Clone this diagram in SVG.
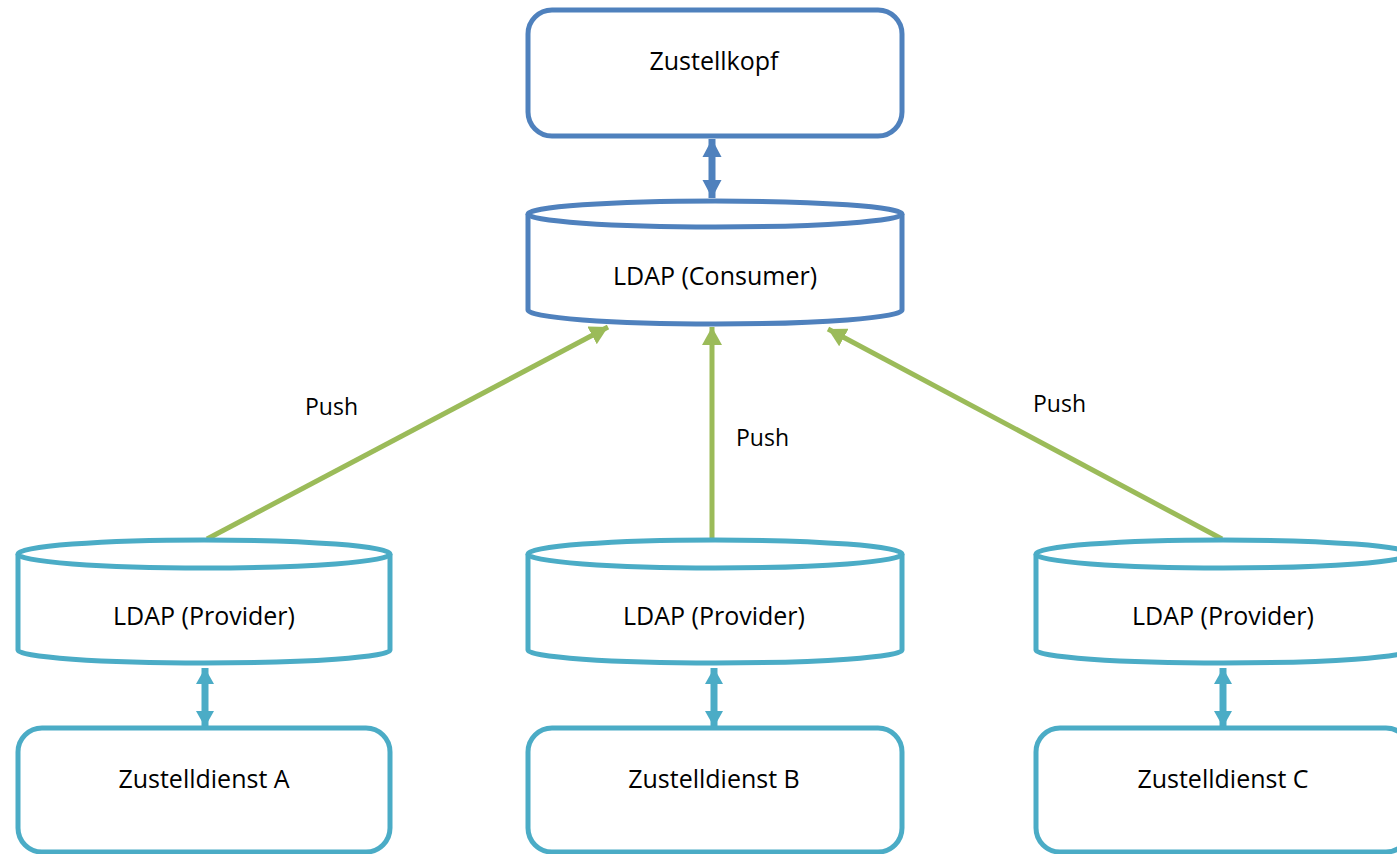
<svg xmlns="http://www.w3.org/2000/svg" width="1397" height="854" viewBox="0 0 1397 854">
<style>
.blue{fill:#fff;stroke:#4F81BD;stroke-width:5}
.teal{fill:#fff;stroke:#4BACC6;stroke-width:5}
.lbl{font-family:"Open Sans","Liberation Sans",sans-serif;font-size:25px;fill:#000;text-anchor:middle}
.push{font-family:"Open Sans","Liberation Sans",sans-serif;font-size:23px;fill:#000}
.g{stroke:#9BBB59;stroke-width:5;fill:none}
.bl{stroke:#4F81BD;stroke-width:7;fill:none}
.tl{stroke:#4BACC6;stroke-width:7;fill:none}
</style>
<defs>
<marker id="mg" markerUnits="userSpaceOnUse" markerWidth="20" markerHeight="20" refX="18" refY="10" orient="auto"><path d="M0,0 L18,10 L0,20 Z" fill="#9BBB59"/></marker>
<marker id="mb" markerUnits="userSpaceOnUse" markerWidth="20" markerHeight="20" refX="18" refY="10" orient="auto-start-reverse"><path d="M0,0.5 L18,10 L0,19.5 Z" fill="#4F81BD"/></marker>
<marker id="mt" markerUnits="userSpaceOnUse" markerWidth="20" markerHeight="20" refX="16" refY="10" orient="auto-start-reverse"><path d="M0,1 L16,10 L0,19 Z" fill="#4BACC6"/></marker>
</defs>
<rect width="1397" height="854" fill="#fff"/>
<g id="connectors">
<line class="bl" x1="712" y1="139" x2="712" y2="198" marker-start="url(#mb)" marker-end="url(#mb)"/>
<line class="tl" x1="205" y1="668" x2="205" y2="727" marker-start="url(#mt)" marker-end="url(#mt)"/>
<line class="tl" x1="714" y1="668" x2="714" y2="727" marker-start="url(#mt)" marker-end="url(#mt)"/>
<line class="tl" x1="1223" y1="668" x2="1223" y2="727" marker-start="url(#mt)" marker-end="url(#mt)"/>
<line class="g" x1="207" y1="539" x2="608" y2="327" marker-end="url(#mg)"/>
<line class="g" x1="712" y1="539" x2="712" y2="327" marker-end="url(#mg)"/>
<line class="g" x1="1222" y1="539" x2="828" y2="329" marker-end="url(#mg)"/>
<text class="push" x="305" y="415">Push</text>
<text class="push" x="736" y="446">Push</text>
<text class="push" x="1033" y="412">Push</text>
</g>
<g id="zustellkopf">
<rect class="blue" x="528" y="10" width="374" height="126" rx="24"/>
<text class="lbl" x="714" y="70">Zustellkopf</text>
</g>
<g id="consumer">
<path class="blue" d="M528,214 L528,310 A187,14 0 0 0 902,310 L902,214"/>
<ellipse class="blue" cx="715" cy="214" rx="187" ry="13"/>
<text class="lbl" x="715" y="285">LDAP (Consumer)</text>
</g>
<g id="providerA">
<path class="teal" d="M18,554 L18,650 A186,13 0 0 0 390,650 L390,554"/>
<ellipse class="teal" cx="204" cy="554" rx="186" ry="14"/>
<text class="lbl" x="204" y="625">LDAP (Provider)</text>
</g>
<g id="providerB">
<path class="teal" d="M528,554 L528,650 A187,13 0 0 0 902,650 L902,554"/>
<ellipse class="teal" cx="715" cy="554" rx="187" ry="14"/>
<text class="lbl" x="714" y="625">LDAP (Provider)</text>
</g>
<g id="providerC">
<path class="teal" d="M1036,554 L1036,650 A187,13 0 0 0 1410,650 L1410,554"/>
<ellipse class="teal" cx="1223" cy="554" rx="187" ry="14"/>
<text class="lbl" x="1223" y="625">LDAP (Provider)</text>
</g>
<g id="dienstA">
<rect class="teal" x="18" y="728" width="372" height="124" rx="24"/>
<text class="lbl" x="204" y="788">Zustelldienst A</text>
</g>
<g id="dienstB">
<rect class="teal" x="528" y="728" width="374" height="124" rx="24"/>
<text class="lbl" x="714" y="788">Zustelldienst B</text>
</g>
<g id="dienstC">
<rect class="teal" x="1036" y="728" width="374" height="124" rx="24"/>
<text class="lbl" x="1223" y="788">Zustelldienst C</text>
</g>
</svg>
